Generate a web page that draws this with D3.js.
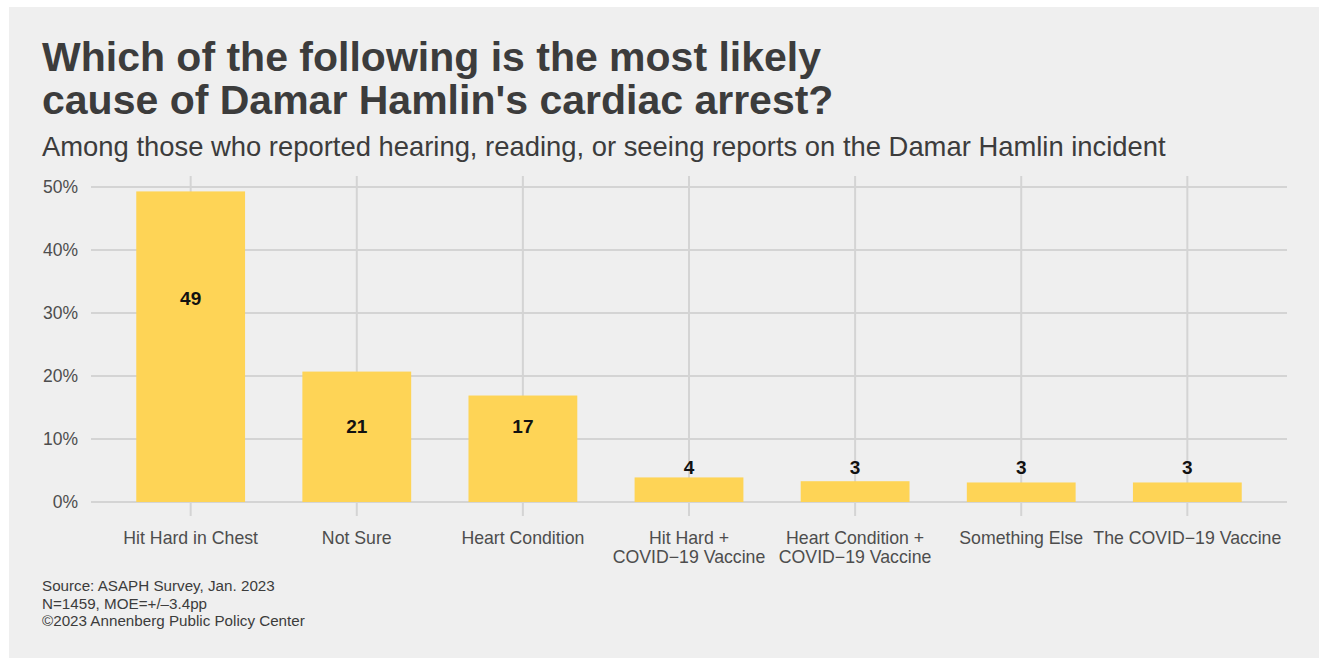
<!DOCTYPE html>
<html>
<head>
<meta charset="utf-8">
<script src="https://cdn.jsdelivr.net/npm/d3@7"></script>
<style>
  body { margin: 0; background: #ffffff; }
  svg { display: block; font-family: "Liberation Sans", Arial, Helvetica, sans-serif; }
</style>
</head>
<body>
<svg id="chart"></svg>
<script>
// survey answers, percent of respondents
const categories = [
    "Hit Hard in Chest",
    "Not Sure",
    "Heart Condition",
    "Hit Hard +\nCOVID\u221219 Vaccine",
    "Heart Condition +\nCOVID\u221219 Vaccine",
    "Something Else",
    "The COVID\u221219 Vaccine"
];
const values = [49.3, 20.7, 16.9, 3.9, 3.3, 3.1, 3.1];
const yTicks = [0, 10, 20, 30, 40, 50];

const titleLines = [
    "Which of the following is the most likely",
    "cause of Damar Hamlin's cardiac arrest?"
];
const subtitle = "Among those who reported hearing, reading, or seeing reports on the Damar Hamlin incident";
const captionLines = [
    "Source: ASAPH Survey, Jan. 2023",
    "N=1459, MOE=+/\u20133.4pp",
    "\u00a92023 Annenberg Public Policy Center"
];

const width = 1319, height = 658;
const margin = {top: 187, right: 32, bottom: 156, left: 91};

const svg = d3.select("#chart").attr("width", width).attr("height", height);

svg.append("rect")
    .attr("x", 9).attr("y", 7)
    .attr("width", width - 9).attr("height", height - 7)
    .attr("fill", "#efefef");

// ggplot-style discrete axis: 0.6 unit padding either side
const x = d3.scalePoint()
    .domain(categories)
    .range([margin.left, width - margin.right])
    .padding(0.6);
const barW = x.step() * 0.655;

const y = d3.scaleLinear()
    .domain([0, 50])
    .range([height - margin.bottom, margin.top]);

// gridlines
const grid = svg.append("g").attr("stroke", "#d4d4d4").attr("stroke-width", 2);
grid.selectAll(".hg")
    .data(yTicks)
    .join("line")
    .attr("x1", margin.left).attr("x2", width - margin.right)
    .attr("y1", d => y(d)).attr("y2", d => y(d));
grid.selectAll(".vg")
    .data(categories)
    .join("line")
    .attr("x1", d => x(d)).attr("x2", d => x(d))
    .attr("y1", 176).attr("y2", y(0) + 14);

// y axis labels
const yAxis = d3.axisLeft(y)
    .tickValues(yTicks)
    .tickFormat(d => d + "%")
    .tickSize(0)
    .tickPadding(13);
const yg = svg.append("g").attr("transform", `translate(${margin.left},0)`).call(yAxis);
yg.select(".domain").remove();
yg.selectAll("text")
    .attr("fill", "#4d4d4d")
    .style("font-size", "17.5px")
    .style("font-family", "Liberation Sans, Arial, sans-serif");

// bars
svg.selectAll(".bar")
    .data(values)
    .join("rect")
    .attr("class", "bar")
    .attr("x", (d, i) => x(categories[i]) - barW / 2)
    .attr("width", barW)
    .attr("y", d => y(d))
    .attr("height", d => y(0) - y(d))
    .attr("fill", "#fed456");

// value labels: big bars inside, small bars just above
const labelPos = v => v >= 10 ? (v > 30 ? v - 17 : 12) : 5.5;
svg.selectAll(".val")
    .data(values)
    .join("text")
    .attr("class", "val")
    .attr("x", (d, i) => x(categories[i]))
    .attr("y", d => y(labelPos(d)))
    .attr("dy", "0.36em")
    .attr("text-anchor", "middle")
    .attr("font-weight", "bold")
    .attr("font-size", 19)
    .attr("fill", "#111")
    .text(d => Math.round(d));

// x axis labels
const xl = svg.append("g")
    .selectAll("text")
    .data(categories)
    .join("text")
    .attr("x", d => x(d))
    .attr("y", 544)
    .attr("text-anchor", "middle")
    .attr("font-size", 17.7)
    .attr("fill", "#4d4d4d");
xl.each(function(d) {
    const t = d3.select(this);
    d.split("\n").forEach((line, i) => {
        t.append("tspan").attr("x", x(d)).attr("dy", i ? 19 : 0).text(line);
    });
});

// titles
svg.append("g")
    .selectAll("text")
    .data(titleLines)
    .join("text")
    .attr("x", 42)
    .attr("y", (d, i) => 71 + i * 43)
    .attr("font-size", 41)
    .attr("font-weight", "bold")
    .attr("fill", "#3c3c3c")
    .text(d => d);

svg.append("text")
    .attr("x", 42).attr("y", 156)
    .attr("font-size", 27.4)
    .attr("fill", "#3c3c3c")
    .text(subtitle);

svg.append("g")
    .selectAll("text")
    .data(captionLines)
    .join("text")
    .attr("x", 42)
    .attr("y", (d, i) => 591 + i * 17.5)
    .attr("font-size", 15.2)
    .attr("fill", "#3c3c3c")
    .text(d => d);
</script>
</body>
</html>
